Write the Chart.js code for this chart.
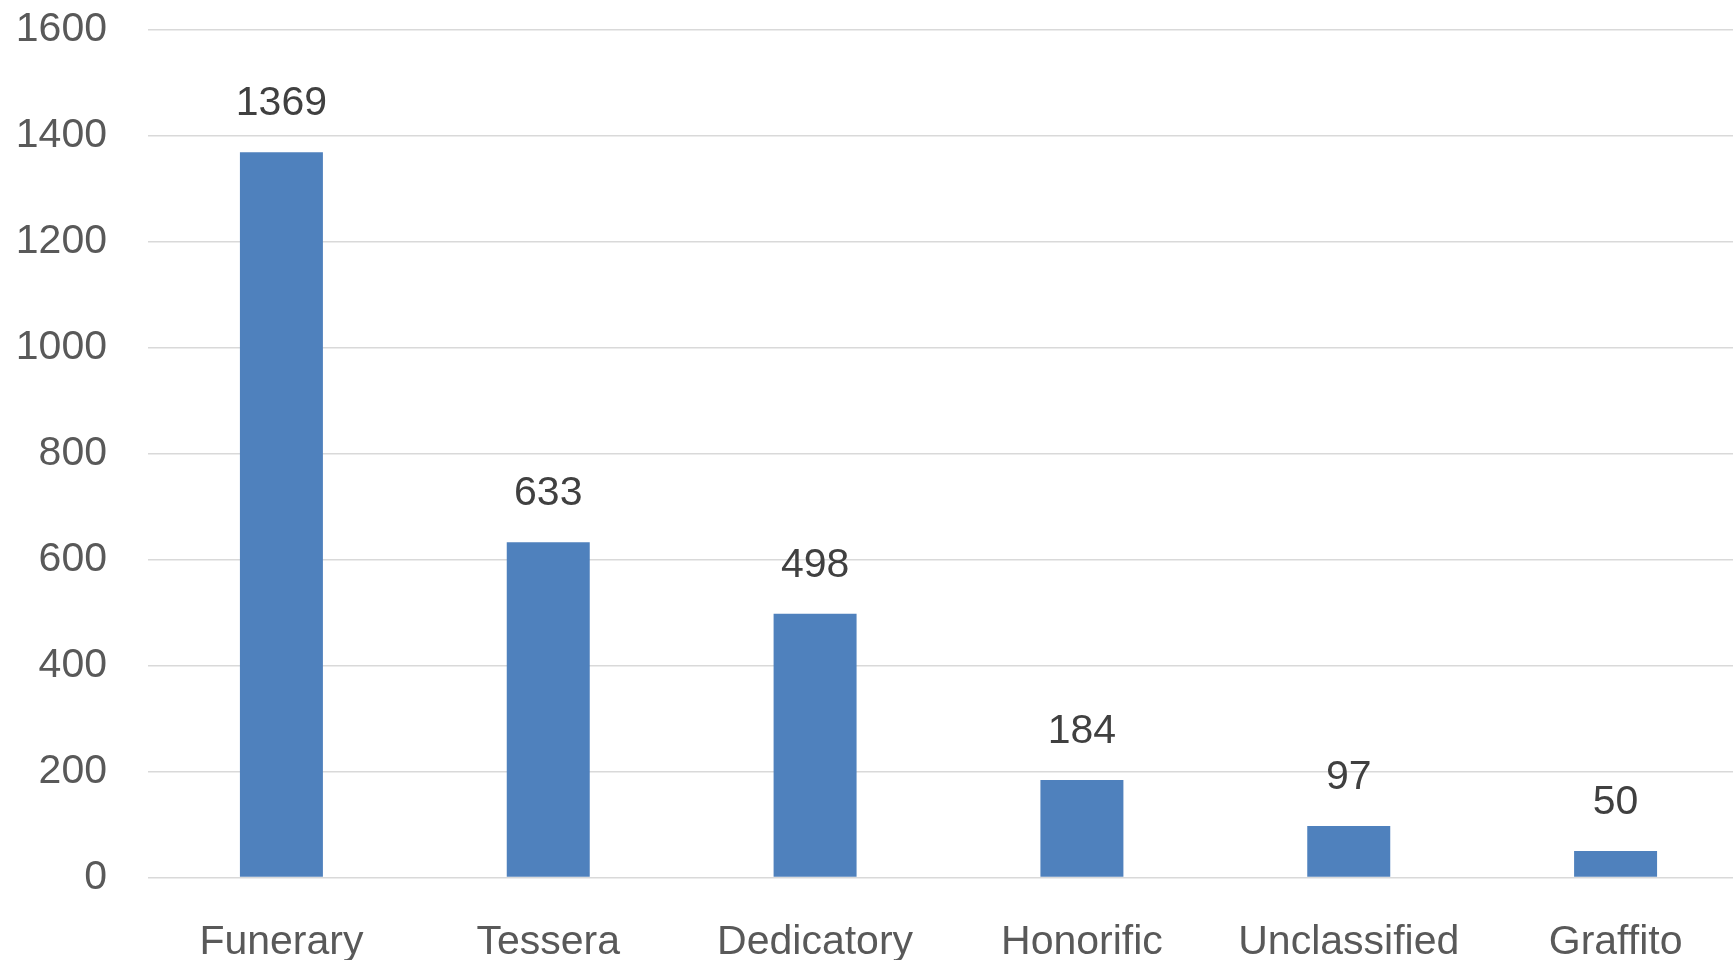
<!DOCTYPE html>
<html>
<head>
<meta charset="utf-8">
<script src="https://cdn.jsdelivr.net/npm/chart.js@4"></script>
<style>
html,body{margin:0;padding:0;background:#fff;overflow:hidden;}
#wrap{width:1749px;height:960px;position:relative;}
</style>
</head>
<body>
<div id="wrap"><canvas id="c"></canvas></div>
<script>
const categories = ["Funerary", "Tessera", "Dedicatory", "Honorific", "Unclassified", "Graffito"];
const counts = [1369, 633, 498, 184, 97, 50];
const yTicks = [0, 200, 400, 600, 800, 1000, 1200, 1400, 1600];

const FONT = "'Liberation Sans', Arial, sans-serif";

const valueLabels = {
  id: 'valueLabels',
  afterDatasetsDraw(chart) {
    const ctx = chart.ctx;
    const meta = chart.getDatasetMeta(0);
    ctx.save();
    ctx.font = "41px " + FONT;
    ctx.fillStyle = "#404040";
    ctx.textAlign = "center";
    ctx.textBaseline = "alphabetic";
    meta.data.forEach((bar, i) => {
      ctx.fillText(String(chart.data.datasets[0].data[i]), bar.x, bar.y - 37);
    });
    ctx.restore();
  }
};

new Chart(document.getElementById('c'), {
  type: 'bar',
  data: {
    labels: categories,
    datasets: [{
      data: counts,
      backgroundColor: '#4F81BD',
      borderWidth: 0,
      categoryPercentage: 1,
      barPercentage: 0.311
    }]
  },
  options: {
    responsive: true,
    maintainAspectRatio: false,
    animation: false,
    layout: { padding: { top: 30, left: 0, right: 0, bottom: 0 } },
    plugins: { legend: { display: false }, tooltip: { enabled: false } },
    scales: {
      x: {
        grid: { display: false },
        border: { display: false },
        ticks: { color: '#595959', font: { family: FONT, size: 41 }, padding: 33, maxRotation: 0, autoSkip: false },
        afterFit(s) { s.height = 82.5; s.paddingLeft = 0; s.paddingRight = 0; }
      },
      y: {
        min: 0, max: 1600,
        afterBuildTicks(s) { s.ticks = yTicks.map(v => ({ value: v })); },
        grid: { color: '#D9D9D9', lineWidth: 1.5, drawTicks: false },
        border: { display: false },
        ticks: { color: '#595959', font: { family: FONT, size: 41 }, padding: 41, callback: (v) => String(v) },
        afterFit(s) { s.width = 148; s.paddingTop = 0; s.paddingBottom = 0; }
      }
    }
  },
  plugins: [valueLabels]
});
</script>
</body>
</html>
